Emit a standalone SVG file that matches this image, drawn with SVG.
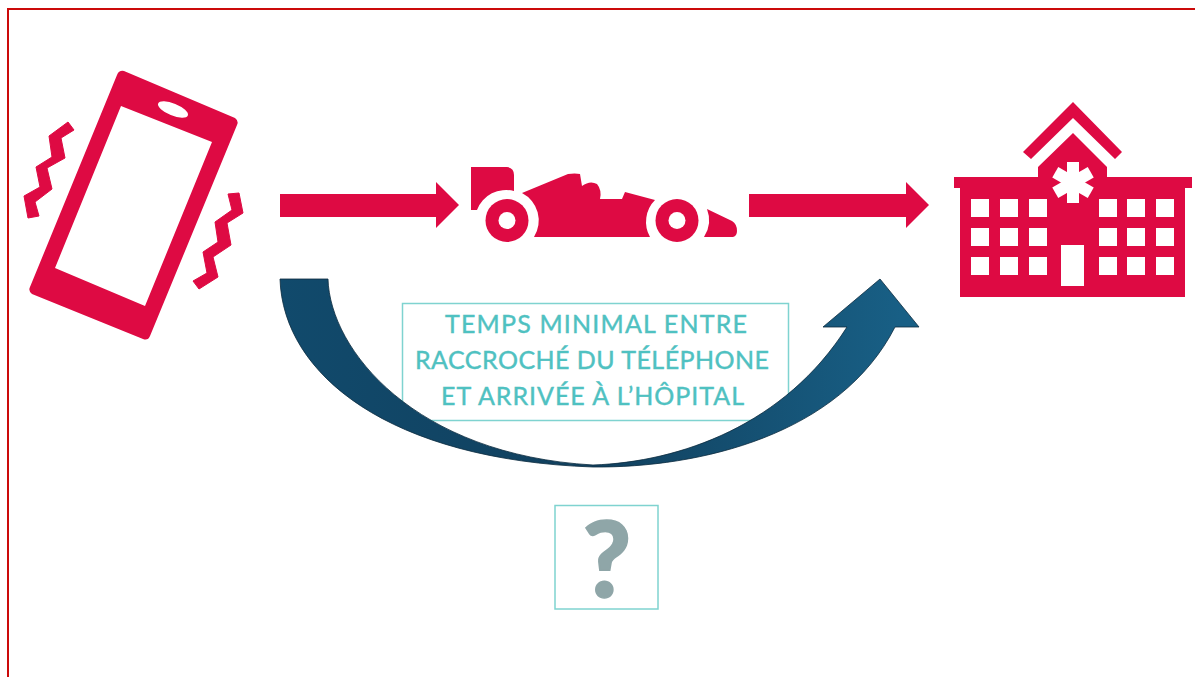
<svg xmlns="http://www.w3.org/2000/svg" width="1195" height="677" viewBox="0 0 1195 677">
<defs>
<linearGradient id="blue" gradientUnits="userSpaceOnUse" x1="280" y1="330" x2="900" y2="330">
<stop offset="0" stop-color="#114a6c"/><stop offset="0.5" stop-color="#11405e"/><stop offset="1" stop-color="#185f85"/>
</linearGradient>
</defs>
<style>
.red{fill:#de0a43}
.zig{stroke:#de0a43;stroke-width:1;stroke-linejoin:round}
.hole{fill:#fff}
.box{fill:#fff;stroke:#7fd3d0;stroke-width:1.5}
.t{font-family:"Lato","Liberation Sans",sans-serif;font-size:25px;fill:#4fc1c1;stroke:#4fc1c1;stroke-width:.4;text-anchor:middle}
</style>
<rect x="0" y="0" width="1195" height="677" fill="#fff"/>
<rect x="8" y="9" width="1300" height="800" fill="none" stroke="#cb0a0a" stroke-width="2"/>
<g id="phone">
<path class="red" fill-rule="evenodd" d="M124 71 L235 118 Q239 121 237 125 L150 336 Q148 341 143 339 L32 294 Q28 291 30 287 L117 75 Q119 70 124 71Z M121 106 L55 268 L145 306 L212 142Z"/>
<ellipse class="hole" cx="173" cy="109.500" rx="16" ry="6" transform="rotate(22 173 109.500)"/>
<polygon class="red zig" points="68,122 74,130 61,138 65,158 47,168 52,189 35,202 39,216 28,218 24,196 40,187 36,167 52,157 49,136"/>
<polygon class="red zig" points="228,194 239,193 243,213 227,223 231,245 213,257 218,277 199,289 193,281 207,273 203,252 218,242 215,222 232,210"/>
</g>
<g id="car">
<path class="red" d="M471 167 L507 167 Q514 168 514 175 L514 191 A31 31 0 0 0 477 210 L471 210Z"/>
<path class="red" d="M522 193 L568 174 Q575 173 580 174 L582 186 Q590 180 597 184 Q602 190 600 199 L622 199 L625 192 L655 200 A31 31 0 0 0 650 237 L534 237 A31 31 0 0 0 522 193Z"/>
<circle class="red" cx="507" cy="220.500" r="21.500"/><circle class="hole" cx="507" cy="220.500" r="8.500"/>
<circle class="red" cx="677" cy="220.500" r="21.500"/><circle class="hole" cx="677" cy="220.500" r="8.500"/>
<path class="red" d="M707 209 L732 221 Q737 224 737 231 Q737 236 733 237 L704 237 A31 31 0 0 0 707 209Z"/>
</g>
<g id="hospital">
<path class="red" d="M1073 102 L1122 152 L1115 159 L1073 118 L1031 159 L1023 152Z"/>
<path class="red" fill-rule="evenodd" d="M954 177 L1038 177 L1038 167 L1073 133 L1107 167 L1107 177 L1192 177 L1192 188 L1185 188 L1185 297 L960 297 L960 188 L954 188Z
M971 199h18v18h-18z M1000 199h18v18h-18z M1029 199h18v18h-18z M1099 199h18v18h-18z M1127 199h18v18h-18z M1156 199h18v18h-18z
M971 228h18v18h-18z M1000 228h18v18h-18z M1029 228h18v18h-18z M1099 228h18v18h-18z M1127 228h18v18h-18z M1156 228h18v18h-18z
M971 257h18v18h-18z M1000 257h18v18h-18z M1029 257h18v18h-18z M1099 257h18v18h-18z M1127 257h18v18h-18z M1156 257h18v18h-18z
M1061 245h23v41h-23z"/>
<g class="hole">
<rect x="1067" y="162" width="12" height="41"/>
<rect x="1067" y="162" width="12" height="41" transform="rotate(60 1073 182.500)"/>
<rect x="1067" y="162" width="12" height="41" transform="rotate(120 1073 182.500)"/>
</g>
</g>
<g id="label">
<rect class="box" x="402.500" y="303.500" width="386" height="117"/>
<text class="t" x="596" y="333" textLength="302">TEMPS MINIMAL ENTRE</text>
<text class="t" x="592" y="369" textLength="354">RACCROCHÉ DU TÉLÉPHONE</text>
<text class="t" x="592.500" y="405" textLength="303">ET ARRIVÉE À L’HÔPITAL</text>
</g>
<g id="question">
<rect class="box" x="555" y="505.500" width="103" height="103.500"/>
<text x="607" y="597" font-family="Lato, Liberation Sans, sans-serif" font-weight="900" font-size="105" fill="#8fa6a8" stroke="#8fa6a8" stroke-width="1.5" text-anchor="middle">?</text>
</g>
<g id="connectors">
<polygon class="red" points="280,194 436,194 436,182 459,205 436,228 436,217 280,217"/>
<polygon class="red" points="749,194 906,194 906,182 929,205 906,228 906,217 749,217"/>
<path fill="url(#blue)" stroke="#0c2c40" stroke-width="1" stroke-opacity=".8" d="M280 279 L328 279 C330 350 415 455 593 465 C680 462 785 425 847 327 L823 327 L880 279 L919 327 L895 327 C840 435 700 468 593 467 C390 460 283 375 280 279Z"/>
</g>
</svg>
